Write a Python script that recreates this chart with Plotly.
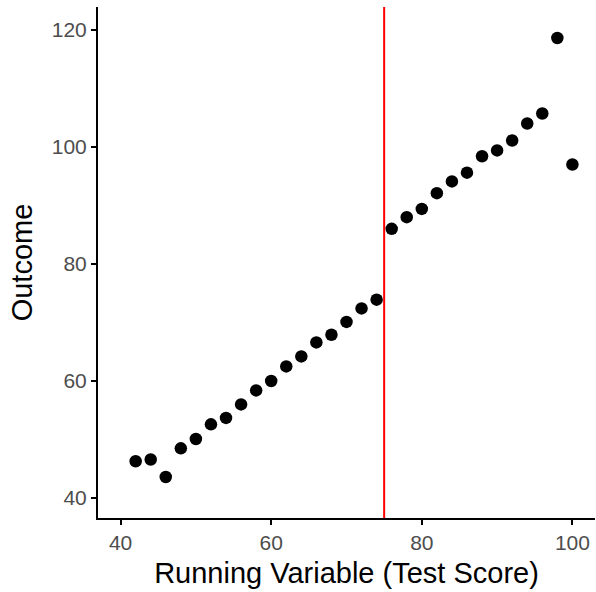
import plotly.graph_objects as go

running = [42, 44, 46, 48, 50, 52, 54, 56, 58, 60, 62, 64, 66, 68, 70, 72, 74,
           76, 78, 80, 82, 84, 86, 88, 90, 92, 94, 96, 98, 100]
outcome = [46.3, 46.6, 43.6, 48.5, 50.1, 52.6, 53.7, 56.0, 58.4, 60.0, 62.5, 64.2,
           66.6, 67.9, 70.1, 72.4, 73.9,
           86.0, 88.0, 89.4, 92.1, 94.1, 95.6, 98.4, 99.4, 101.1, 104.0, 105.7, 118.6, 97.0]
cutoff = 75
x_ticks = [40, 60, 80, 100]
y_ticks = [40, 60, 80, 100, 120]

fig = go.Figure()
fig.add_trace(go.Scatter(x=running, y=outcome, mode="markers",
                         marker=dict(color="black", size=12.5), showlegend=False))
fig.add_vline(x=cutoff, line=dict(color="#FF0000", width=2))

font = "Liberation Sans, Arial, sans-serif"
fig.update_layout(
    width=596, height=592,
    margin=dict(l=98, r=1, t=7, b=74),
    paper_bgcolor="white", plot_bgcolor="white",
    font=dict(family=font),
    xaxis=dict(range=[37, 103], tickvals=x_ticks, showgrid=False, zeroline=False,
               showline=True, linecolor="black", linewidth=2,
               ticks="outside", ticklen=5, tickwidth=2, tickcolor="black",
               tickfont=dict(size=21, color="#4D4D4D"),
               title=dict(text="Running Variable (Test Score)", font=dict(size=29, color="black"),
                          standoff=9)),
    yaxis=dict(range=[36.6, 123.9], tickvals=y_ticks, showgrid=False, zeroline=False,
               showline=True, linecolor="black", linewidth=2,
               ticks="outside", ticklen=5, tickwidth=2, tickcolor="black",
               tickfont=dict(size=21, color="#4D4D4D"),
               title=dict(text="Outcome", font=dict(size=29, color="black"), standoff=11)),
)
fig.write_html("out.html", config={"displayModeBar": False},
               post_script="document.body.style.margin='0';")
